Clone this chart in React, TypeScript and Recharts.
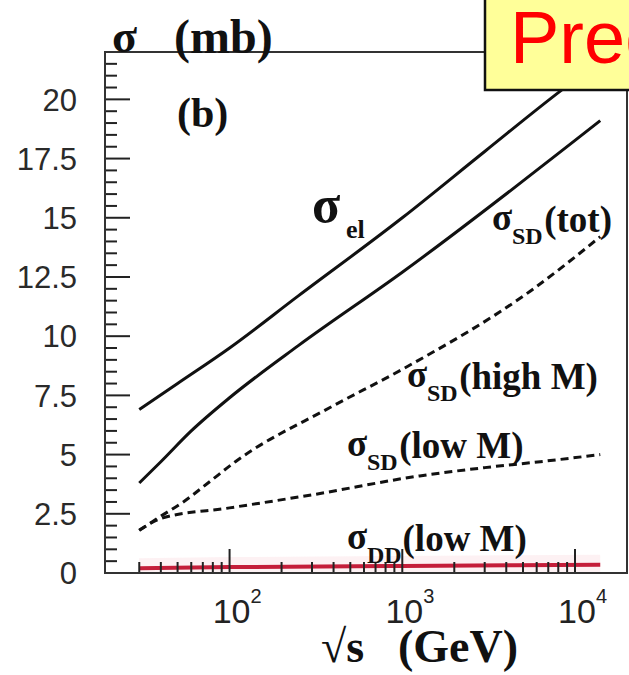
import React from 'react';
import { LineChart, Line, XAxis, YAxis } from 'recharts';

// sqrt(s) in GeV, cross sections in mb
const sigmaEl = [
  { s: 30, v: 6.9 },
  { s: 50, v: 8.0 },
  { s: 100, v: 9.5 },
  { s: 250, v: 11.7 },
  { s: 1000, v: 15.0 },
  { s: 3000, v: 17.8 },
  { s: 8400, v: 20.4 },
  { s: 14000, v: 21.6 },
];

const sigmaSdTot = [
  { s: 30, v: 3.8 },
  { s: 40, v: 4.7 },
  { s: 60, v: 6.0 },
  { s: 100, v: 7.4 },
  { s: 250, v: 9.6 },
  { s: 1000, v: 12.7 },
  { s: 14000, v: 19.1 },
];

const sigmaSdHighM = [
  { s: 30, v: 1.8 },
  { s: 40, v: 2.4 },
  { s: 54, v: 3.0 },
  { s: 75, v: 3.8 },
  { s: 108, v: 4.7 },
  { s: 384, v: 7.0 },
  { s: 1000, v: 8.6 },
  { s: 5500, v: 11.9 },
  { s: 14000, v: 14.2 },
];

const sigmaSdLowM = [
  { s: 30, v: 1.8 },
  { s: 40, v: 2.3 },
  { s: 100, v: 2.75 },
  { s: 300, v: 3.3 },
  { s: 1260, v: 4.1 },
  { s: 3000, v: 4.45 },
  { s: 6300, v: 4.7 },
  { s: 14000, v: 5.0 },
];

const sigmaDdLowM = [
  { s: 30, v: 0.2 },
  { s: 100, v: 0.25 },
  { s: 1000, v: 0.3 },
  { s: 14000, v: 0.35 },
];

const xTicks = [
  30, 40, 50, 60, 70, 80, 90, 100,
  200, 300, 400, 500, 600, 700, 800, 900, 1000,
  2000, 3000, 4000, 5000, 6000, 7000, 8000, 9000, 10000,
];
const xMajor = [100, 1000, 10000];
const xExponents = ['2', '3', '4'];

const yMajor = [0, 2.5, 5, 7.5, 10, 12.5, 15, 17.5, 20];
const yLabels = ['0', '2.5', '5', '7.5', '10', '12.5', '15', '17.5', '20'];
const yTicks = Array.from({ length: 44 }, (_, i) => i * 0.5);

const W = 629;
const H = 675;
const serif = '"Liberation Serif", "DejaVu Serif", serif';
const sans = '"Liberation Sans", Arial, sans-serif';

function XTick(props: any) {
  const { x, y, payload } = props;
  const idx = xMajor.indexOf(payload.value);
  const major = idx >= 0;
  return (
    <g>
      <line x1={x} x2={x} y1={y} y2={y - (major ? 24 : 11)} stroke="#222" strokeWidth={2} />
      {major && (
        <g fontFamily={sans} fill="#222">
          <text x={x + 2} y={y + 50} fontSize={34} textAnchor="middle">10</text>
          <text x={x + 21} y={y + 30} fontSize={20}>{xExponents[idx]}</text>
        </g>
      )}
    </g>
  );
}

function YTick(props: any) {
  const { x, y, payload } = props;
  const idx = yMajor.indexOf(payload.value);
  const major = idx >= 0;
  return (
    <g>
      <line x1={x} x2={x + (major ? 25 : 12)} y1={y} y2={y} stroke="#222" strokeWidth={2} />
      {major && (
        <text x={x - 28} y={y} dy="0.36em" fontSize={31} fontFamily={sans} fill="#2a2a2a" textAnchor="end">
          {yLabels[idx]}
        </text>
      )}
    </g>
  );
}

function Sigma({ x, y, sub, rest, size = 37, subSize = 24 }: any) {
  const subX = x + size * 0.54;
  const restX = subX + subSize * (sub === 'DD' ? 1.44 : 1.3) + 1;
  return (
    <g fontFamily={serif} fontWeight="bold" fill="#111">
      <text x={x} y={y} fontSize={size}>σ</text>
      <text x={subX} y={y + subSize * 0.6} fontSize={subSize}>{sub}</text>
      <text x={restX} y={y + 2} fontSize={size}>{rest}</text>
    </g>
  );
}

export default function App() {
  return (
    <div style={{ position: 'relative', width: W, height: H, overflow: 'hidden', background: '#fff' }}>
      <style>{'body{margin:0}'}</style>
      <LineChart width={W} height={H} margin={{ top: 52, right: 2, bottom: 0, left: 0 }}>
        <XAxis
          dataKey="s"
          type="number"
          scale="log"
          domain={[19, 20000]}
          allowDataOverflow
          ticks={xTicks}
          interval={0}
          tick={XTick}
          tickLine={false}
          axisLine={false}
          tickSize={0}
          tickMargin={0}
          height={102}
        />
        <YAxis
          type="number"
          domain={[0, 22]}
          allowDataOverflow
          ticks={yTicks}
          interval={0}
          tick={YTick}
          tickLine={false}
          axisLine={false}
          tickSize={0}
          tickMargin={0}
          width={105}
        />
        <Line data={sigmaDdLowM} dataKey="v" type="monotone" stroke="#f4b8c4" strokeOpacity={0.2} strokeWidth={20} dot={false} isAnimationActive={false} />
        <Line data={sigmaEl} dataKey="v" type="monotone" stroke="#111" strokeWidth={3} dot={false} isAnimationActive={false} />
        <Line data={sigmaSdTot} dataKey="v" type="monotone" stroke="#111" strokeWidth={3} dot={false} isAnimationActive={false} />
        <Line data={sigmaSdHighM} dataKey="v" type="monotone" stroke="#111" strokeWidth={3} strokeDasharray="8 5" dot={false} isAnimationActive={false} />
        <Line data={sigmaSdLowM} dataKey="v" type="monotone" stroke="#111" strokeWidth={3} strokeDasharray="8 5" dot={false} isAnimationActive={false} />
        <Line data={sigmaDdLowM} dataKey="v" type="monotone" stroke="#c41e3a" strokeWidth={4} dot={false} isAnimationActive={false} />
      </LineChart>

      <svg width={W} height={H} style={{ position: 'absolute', left: 0, top: 0, pointerEvents: 'none' }}>
        <rect x={105} y={52} width={522} height={521} fill="none" stroke="#333" strokeWidth={2} />

        <g fontFamily={serif} fill="#111" fontWeight="bold">
          <text x={112} y={52} fontSize={46}>σ</text>
          <text x={174} y={53} fontSize={48}>(mb)</text>
          <text x={177} y={127} fontSize={42}>(b)</text>
          <text x={312} y={222} fontSize={52}>σ</text>
          <text x={346} y={238} fontSize={26}>el</text>
          <text x={321} y={662} fontSize={46}>√s</text>
          <text x={398} y={662} fontSize={46}>(GeV)</text>
        </g>

        <Sigma x={492} y={230} sub="SD" rest="(tot)" />
        <Sigma x={407} y={387} sub="SD" rest="(high M)" />
        <Sigma x={347} y={456} sub="SD" rest="(low M)" />
        <Sigma x={347} y={549} sub="DD" rest="(low M)" />

        <rect x={485} y={-6} width={160} height={96} fill="#ffff99" stroke="#111" strokeWidth={2.5} />
        <text x={510} y={63} fontSize={74} fontFamily={sans} fill="#ff0000">Predictions</text>
      </svg>
    </div>
  );
}
